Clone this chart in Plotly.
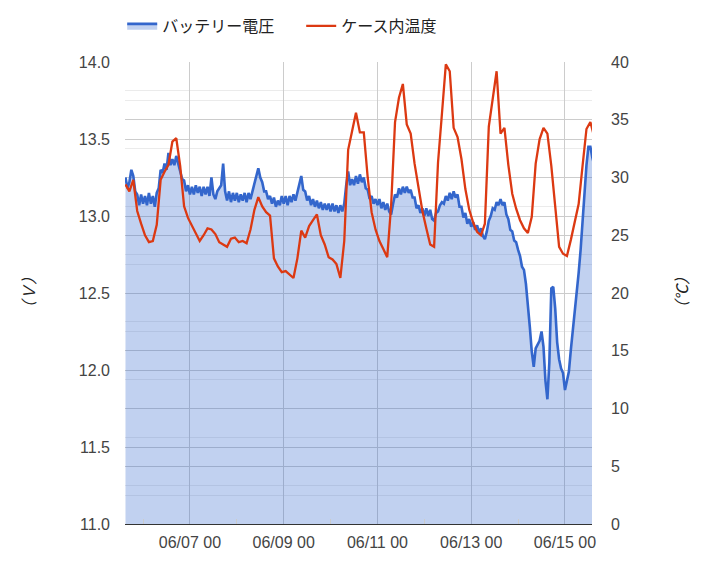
import plotly.graph_objects as go
import pandas as pd

# Battery voltage (V), sampled every hour from 2023-06-05 15:00
voltage = [
    13.25, 13.18, 13.22, 13.30, 13.26, 13.16, 13.14, 13.07, 13.14, 13.08,
    13.13, 13.07, 13.15, 13.08, 13.13, 13.06, 13.15, 13.18, 13.30, 13.28,
    13.34, 13.30, 13.41, 13.33, 13.37, 13.33, 13.39, 13.34, 13.30, 13.24,
    13.23, 13.16, 13.20, 13.14, 13.19, 13.14, 13.20, 13.15, 13.19, 13.13,
    13.19, 13.14, 13.19, 13.13, 13.25, 13.14, 13.11, 13.16, 13.18, 13.20,
    13.34, 13.16, 13.10, 13.16, 13.09, 13.15, 13.10, 13.15, 13.09, 13.14,
    13.10, 13.15, 13.09, 13.15, 13.11, 13.16, 13.22, 13.27, 13.31, 13.25,
    13.22, 13.16, 13.16, 13.11, 13.13, 13.08, 13.12, 13.06, 13.10, 13.07,
    13.13, 13.08, 13.13, 13.07, 13.13, 13.09, 13.14, 13.10, 13.16, 13.20,
    13.26, 13.17, 13.16, 13.10, 13.13, 13.07, 13.11, 13.06, 13.10, 13.05,
    13.09, 13.04, 13.08, 13.04, 13.08, 13.03, 13.08, 13.03, 13.07, 13.02,
    13.07, 13.03, 13.08, 13.20, 13.29, 13.20, 13.24, 13.20, 13.26, 13.21,
    13.27, 13.22, 13.25, 13.18, 13.17, 13.11, 13.13, 13.08, 13.11, 13.07,
    13.11, 13.05, 13.09, 13.04, 13.08, 13.03, 13.01, 13.08, 13.14, 13.12,
    13.18, 13.14, 13.19, 13.15, 13.19, 13.15, 13.17, 13.12, 13.12, 13.05,
    13.07, 13.02, 13.05, 13.00, 13.05, 13.00, 13.04, 12.98, 12.97, 13.02,
    13.03, 13.07, 13.09, 13.08, 13.13, 13.10, 13.15, 13.11, 13.16, 13.12,
    13.14, 13.06, 13.06, 12.99, 13.02, 12.95, 12.98, 12.93, 12.96, 12.91,
    12.94, 12.89, 12.92, 12.87, 12.85, 12.90, 12.97, 13.00, 13.05, 13.04,
    13.09, 13.07, 13.11, 13.07, 13.09, 13.01, 12.98, 12.91, 12.90, 12.84,
    12.83, 12.78, 12.74, 12.67, 12.65, 12.56, 12.44, 12.28, 12.12, 12.02,
    12.14, 12.17, 12.19, 12.25, 12.15, 11.93, 11.81, 12.05, 12.53, 12.54,
    12.40, 12.18, 12.07, 12.01, 11.98, 11.87, 11.92, 11.99, 12.13, 12.25,
    12.37, 12.50, 12.63, 12.78, 12.97, 13.15, 13.33, 13.45, 13.45, 13.38,
    13.33,
]

# Temperature inside the case (deg C), sampled every 2 hours from 2023-06-05 15:00
temperature = [
    29.4, 28.8, 29.8, 27.1, 26.0, 25.0, 24.4, 24.5, 25.9, 29.8,
    30.5, 31.1, 33.1, 33.4, 31.0, 27.5, 26.5, 25.8, 25.1, 24.5,
    25.0, 25.6, 25.5, 25.1, 24.4, 24.2, 24.0, 24.7, 24.8, 24.4,
    24.5, 24.3, 25.5, 27.2, 28.3, 27.5, 27.0, 26.7, 23.0, 22.3,
    21.8, 21.9, 21.6, 21.3, 23.0, 25.4, 24.8, 25.8, 26.3, 26.8,
    25.0, 24.2, 23.1, 22.9, 22.5, 21.3, 24.5, 32.4, 34.0, 35.6,
    33.9, 33.9, 30.0, 27.0, 25.5, 24.5, 23.8, 23.1, 27.6, 34.8,
    36.9, 38.1, 34.6, 33.8, 31.2, 29.0, 27.1, 25.6, 24.2, 24.0,
    31.3, 35.5, 39.8, 39.2, 34.3, 33.5, 31.6, 29.0, 27.2, 26.1,
    25.3, 25.0, 26.0, 34.4, 37.0, 39.2, 33.8, 34.3, 31.1, 28.6,
    27.3, 26.3, 25.6, 25.2, 26.6, 31.2, 33.3, 34.3, 33.8, 31.0,
    27.5, 24.0, 23.4, 23.2, 24.6, 26.1, 27.7, 31.0, 34.2, 34.8,
    33.5,
]

start_time = "2023-06-05 15:00"
voltage_step = "1h"
temperature_step = "2h"
x_range = ["2023-06-05 14:45", "2023-06-15 13:50"]
series_names = ["バッテリー電圧", "ケース内温度"]
left_title = "（Ｖ）"
right_title = "（℃）"

v_times = pd.date_range(start_time, periods=len(voltage), freq=voltage_step)
t_times = pd.date_range(start_time, periods=len(temperature), freq=temperature_step)

FONT = "Liberation Sans, Arial, Noto Sans CJK JP, sans-serif"
TITLE_FONT = "Noto Sans CJK JP, sans-serif"

fig = go.Figure()
fig.add_trace(go.Scatter(
    x=v_times, y=voltage, name=series_names[0], mode="lines",
    line=dict(color="#3366cc", width=2.6), fill="tozeroy",
    fillcolor="rgba(51,102,204,0.3)", yaxis="y",
))
fig.add_trace(go.Scatter(
    x=t_times, y=temperature, name=series_names[1], mode="lines",
    line=dict(color="#dc3912", width=2.3), yaxis="y2",
))

fig.update_layout(
    width=709, height=567,
    margin=dict(l=125, r=117, t=62, b=43, autoexpand=False),
    paper_bgcolor="white", plot_bgcolor="white",
    font=dict(family=FONT, size=16, color="#444444"),
    showlegend=True,
    legend=dict(orientation="h", x=-0.006, xanchor="left", y=1.078, yanchor="middle",
                font=dict(size=16, color="#222222"), bgcolor="rgba(0,0,0,0)",
                entrywidth=134, itemwidth=30),
    xaxis=dict(
        range=x_range, type="date", tickformat="%m/%d %H",
        dtick=2 * 86400000, tick0="2023-06-07 00:00",
        showgrid=True, gridcolor="#cccccc", gridwidth=1,
        showline=True, linecolor="#333333", linewidth=1,
        ticks="", ticklabelstandoff=4,
        minor=dict(dtick=86400000, tick0="2023-06-06 00:00", ticks="inside",
                   ticklen=5, tickcolor="#cccccc", showgrid=False),
        zeroline=False, fixedrange=True,
    ),
    yaxis=dict(
        range=[11, 14], dtick=0.5, tickformat=".1f",
        showgrid=True, gridcolor="#cccccc", gridwidth=1,
        minor=dict(dtick=0.25, showgrid=True, gridcolor="#ebebeb"),
        zeroline=False, showline=False, ticks="", ticklabelstandoff=14,
    ),
    yaxis2=dict(
        range=[0, 40], dtick=5, overlaying="y", side="right",
        showgrid=True, gridcolor="#cccccc", gridwidth=1,
        minor=dict(dtick=2.5, showgrid=True, gridcolor="#ebebeb"),
        zeroline=False, showline=False, ticks="", ticklabelstandoff=18,
    ),
    annotations=[
        dict(text=left_title, xref="paper", yref="paper", x=-0.208, y=0.5,
             xanchor="center", yanchor="middle", showarrow=False, textangle=-90,
             font=dict(family=TITLE_FONT, size=16, color="#222222", style="italic")),
        dict(text=right_title, xref="paper", yref="paper", x=1.19, y=0.5,
             xanchor="center", yanchor="middle", showarrow=False, textangle=-90,
             font=dict(family=TITLE_FONT, size=16, color="#222222", style="italic")),
    ],
)

fig.write_html("out.html")
